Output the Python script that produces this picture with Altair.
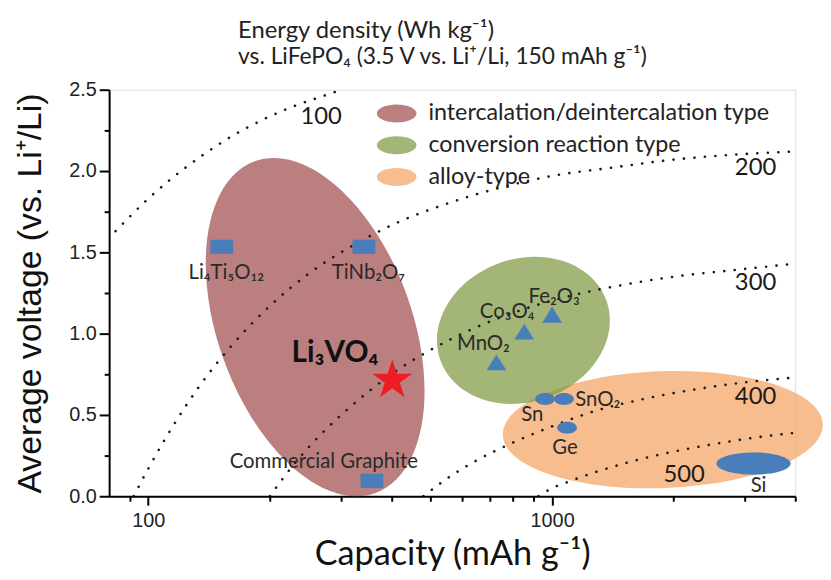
import altair as alt
import pandas as pd

# ---------------- data ----------------
# iso-energy-density curves (capacity mAh/g, average voltage V)
c100_cap = [83, 90, 100, 115, 135, 160, 190, 230, 270, 301]
c100_v = [1.63, 1.72, 1.83, 1.96, 2.09, 2.21, 2.31, 2.40, 2.46, 2.50]
c200_cap = [92, 100, 115, 135, 160, 200, 250, 320, 420, 550, 750, 1000, 1400, 2000, 2800, 4000]
c200_v = [0.0, 0.17, 0.43, 0.69, 0.92, 1.17, 1.37, 1.54, 1.69, 1.80, 1.90, 1.97, 2.02, 2.07, 2.10, 2.12]
c300_cap = [200, 230, 270, 320, 400, 500, 650, 850, 1100, 1500, 2000, 2800, 4000]
c300_v = [0.0, 0.20, 0.39, 0.56, 0.75, 0.90, 1.04, 1.15, 1.23, 1.30, 1.35, 1.39, 1.43]
c400_cap = [480, 550, 650, 800, 1000, 1300, 1700, 2300, 3000, 4000]
c400_v = [0.0, 0.11, 0.22, 0.33, 0.43, 0.53, 0.60, 0.66, 0.70, 0.73]
c500_cap = [925, 1000, 1100, 1250, 1500, 1800, 2200, 2800, 3400, 4000]
c500_v = [0.0, 0.05, 0.09, 0.14, 0.20, 0.25, 0.295, 0.34, 0.37, 0.39]

curve_names = ["100", "200", "300", "400", "500"]
curve_label_cap = [268, 3190, 3190, 3190, 2124]
curve_label_v = [2.33, 2.02, 1.31, 0.61, 0.13]

# material-type regions
region_types = ["intercalation/deintercalation type", "conversion reaction type", "alloy-type"]
region_cap = [259, 849, 1880]
region_v = [1.04, 1.02, 0.41]

# materials
rect_names = ["Li₄Ti₅O₁₂", "TiNb₂O₇", "Commercial Graphite"]
rect_cap = [152, 342, 358]
rect_v = [1.534, 1.534, 0.095]

tri_names = ["MnO₂", "Co₃O₄", "Fe₂O₃"]
tri_cap = [728, 853, 1000]
tri_v = [0.823, 1.012, 1.116]

alloy_names = ["Sn", "SnO₂", "Ge"]
alloy_cap = [961, 1070, 1089]
alloy_v = [0.598, 0.598, 0.421]

si_name = ["Si"]
si_cap = [3153]
si_v = [0.201]

star_name = ["Li₃VO₄"]
star_cap = [402]
star_v = [0.713]

label_texts = ["Li₄Ti₅O₁₂", "TiNb₂O₇", "Commercial Graphite", "MnO₂", "Co₃O₄", "Fe₂O₃",
               "Sn", "SnO₂", "Ge", "Si"]
label_cap = [156, 351, 272, 676, 774, 1012, 893, 1297, 1076, 3245]
label_v = [1.372, 1.372, 0.213, 0.939, 1.134, 1.226, 0.50, 0.591, 0.299, 0.061]

star_label_cap = [290]
star_label_v = [0.878]

x_tick_values = [90, 100, 200, 300, 400, 500, 600, 700, 800, 900, 1000, 2000, 3000, 4000]
y_tick_values = [0, 0.25, 0.5, 0.75, 1.0, 1.25, 1.5, 1.75, 2.0, 2.25, 2.5]

title_line1 = "Energy density (Wh kg⁻¹)"
title_line2 = "vs. LiFePO₄ (3.5 V vs. Li⁺/Li, 150 mAh g⁻¹)"

# ---------------- tables ----------------
curve_frames = []
for name, caps, vs in zip(curve_names,
                          [c100_cap, c200_cap, c300_cap, c400_cap, c500_cap],
                          [c100_v, c200_v, c300_v, c400_v, c500_v]):
    curve_frames.append(pd.DataFrame({"curve": name, "cap": caps, "v": vs,
                                      "order": list(range(len(caps)))}))
curves_df = pd.concat(curve_frames, ignore_index=True)
curve_lbl_df = pd.DataFrame({"text": curve_names, "cap": curve_label_cap, "v": curve_label_v})
region_df = pd.DataFrame({"type": region_types, "cap": region_cap, "v": region_v})
rect_df = pd.DataFrame({"name": rect_names, "cap": rect_cap, "v": rect_v})
tri_df = pd.DataFrame({"name": tri_names, "cap": tri_cap, "v": tri_v})
alloy_df = pd.DataFrame({"name": alloy_names, "cap": alloy_cap, "v": alloy_v})
si_df = pd.DataFrame({"name": si_name, "cap": si_cap, "v": si_v})
star_df = pd.DataFrame({"name": star_name, "cap": star_cap, "v": star_v})
label_df = pd.DataFrame({"text": label_texts, "cap": label_cap, "v": label_v})
star_lbl_df = pd.DataFrame({"text": star_name, "cap": star_label_cap, "v": star_label_v})


# ---------------- shapes (styles) ----------------
def ellipse_path(ry):
    k = 0.5523
    return (f"M -1 0 C -1 {-k*ry:.4f} {-k} {-ry:.4f} 0 {-ry:.4f} "
            f"C {k} {-ry:.4f} 1 {-k*ry:.4f} 1 0 "
            f"C 1 {k*ry:.4f} {k} {ry:.4f} 0 {ry:.4f} "
            f"C {-k} {ry:.4f} -1 {k*ry:.4f} -1 0 Z")


rect_path = "M -1 -0.62 L 1 -0.62 L 1 0.62 L -1 0.62 Z"
tri_path = "M 0 -0.8 L 1 0.8 L -1 0.8 Z"
star_path = ("M 0 -1 L 0.2245 -0.309 L 0.951 -0.309 L 0.363 0.118 L 0.588 0.809 "
             "L 0 0.382 L -0.588 0.809 L -0.363 0.118 L -0.951 -0.309 L -0.2245 -0.309 Z")

region_colors = ["#a45454", "#849c4a", "#f4a76a"]
blue = "#4a7ebb"
text_font = "Lato"

cond_x = "datum.value == 100 || datum.value == 1000"
cond_y = "datum.value % 0.5 == 0"

x_axis = alt.Axis(
    title="Capacity (mAh g⁻¹)", values=x_tick_values, format="d",
    labelExpr=f"({cond_x}) ? datum.label : ''", labelOverlap=False,
    tickSize={"condition": {"test": cond_x, "value": 9}, "value": 5},
    tickWidth=2, tickColor="black", domainWidth=2, domainColor="black",
    labelFont="Liberation Sans", labelFontSize=20, labelColor="#222", labelPadding=6,
    titleFont=text_font, titleFontSize=34.5, titleFontWeight="normal", titleColor="#111",
    titlePadding=7, grid=False,
)
y_axis = alt.Axis(
    title="Average voltage (vs. Li⁺/Li)", values=y_tick_values,
    labelExpr=f"({cond_y}) ? format(datum.value, '.1f') : ''", labelOverlap=False,
    tickSize={"condition": {"test": cond_y, "value": 10}, "value": 5},
    tickWidth=2, tickColor="black", domainWidth=2, domainColor="black",
    labelFont="Liberation Sans", labelFontSize=20, labelColor="#222", labelPadding=3,
    titleFont="Liberation Sans", titleFontSize=34, titleFontWeight="normal", titleColor="#111",
    titlePadding=21, grid=False,
)

x_enc = alt.X("cap:Q", scale=alt.Scale(type="log", domain=[80, 4000], nice=False), axis=x_axis)
y_enc = alt.Y("v:Q", scale=alt.Scale(domain=[0, 2.5], nice=False), axis=y_axis)

color_enc = alt.Color(
    "type:N",
    scale=alt.Scale(domain=region_types, range=region_colors),
    legend=alt.Legend(
        title=None, orient="none", legendX=270, legendY=9, padding=0,
        symbolType=ellipse_path(0.45), symbolSize=1600, symbolStrokeWidth=0,
        clipHeight=30, rowPadding=2, labelOffset=12,
        labelFont=text_font, labelFontSize=23.5, labelColor="#222", labelLimit=0,
    ),
)

base_region = alt.Chart(region_df)
red_region = base_region.transform_filter(alt.datum.type == region_types[0]).mark_point(
    shape=ellipse_path(0.55), size=356 ** 2, angle=70, filled=True, opacity=0.75, strokeWidth=0
).encode(x=x_enc, y=y_enc, color=color_enc)
orange_region = base_region.transform_filter(alt.datum.type == region_types[2]).mark_point(
    shape=ellipse_path(0.365), size=323 ** 2, angle=358, filled=True, opacity=0.75, strokeWidth=0
).encode(x=x_enc, y=y_enc, color=color_enc)
green_region = base_region.transform_filter(alt.datum.type == region_types[1]).mark_point(
    shape=ellipse_path(0.81), size=178 ** 2, angle=340, filled=True, opacity=0.75, strokeWidth=0
).encode(x=x_enc, y=y_enc, color=color_enc)

curves = alt.Chart(curves_df).mark_line(
    strokeDash=[0.1, 10.5], strokeCap="round", strokeWidth=2.6, color="#1a1a1a",
    interpolate="monotone", clip=True
).encode(x=x_enc, y=y_enc, detail="curve:N", order="order:Q")

curve_labels = alt.Chart(curve_lbl_df).mark_text(
    font=text_font, fontSize=24, color="#1a1a1a"
).encode(x=x_enc, y=y_enc, text="text:N")

rects = alt.Chart(rect_df).mark_point(
    shape=rect_path, size=23 ** 2, filled=True, opacity=1, color=blue, strokeWidth=0
).encode(x=x_enc, y=y_enc)
tris = alt.Chart(tri_df).mark_point(
    shape=tri_path, size=20 ** 2, filled=True, opacity=1, color=blue, strokeWidth=0
).encode(x=x_enc, y=y_enc)
alloys = alt.Chart(alloy_df).mark_point(
    shape=ellipse_path(0.6), size=20 ** 2, filled=True, opacity=1, color=blue, strokeWidth=0
).encode(x=x_enc, y=y_enc)
si = alt.Chart(si_df).mark_point(
    shape=ellipse_path(0.3), size=75 ** 2, filled=True, opacity=1, color=blue, strokeWidth=0
).encode(x=x_enc, y=y_enc)
star = alt.Chart(star_df).mark_point(
    shape=star_path, size=1770, filled=True, opacity=1, color="#ee1d23", strokeWidth=0
).encode(x=x_enc, y=y_enc)

labels = alt.Chart(label_df).mark_text(
    font=text_font, fontSize=20.5, color="#2a2a2a"
).encode(x=x_enc, y=y_enc, text="text:N")
star_label = alt.Chart(star_lbl_df).mark_text(
    font=text_font, fontSize=30, fontWeight="bold", color="#111"
).encode(x=x_enc, y=y_enc, text="text:N")

chart = alt.layer(
    red_region, orange_region, green_region, curves, curve_labels,
    rects, tris, alloys, si, star, labels, star_label
).properties(
    width=692, height=410,
    autosize=alt.AutoSizeParams(type="none"),
    padding={"left": 102, "top": 80, "right": 28, "bottom": 78},
    title=alt.TitleParams(
        text=title_line1, subtitle=title_line2, anchor="start", frame="group", dx=130, offset=11,
        font=text_font, fontSize=24, fontWeight="normal", color="#222",
        subtitleFont=text_font, subtitleFontSize=23, subtitleColor="#222", subtitlePadding=3,
    ),
).configure_view(stroke=None).configure(background="white")

chart.save("out.html", embed_options={"renderer": "svg", "actions": False})
